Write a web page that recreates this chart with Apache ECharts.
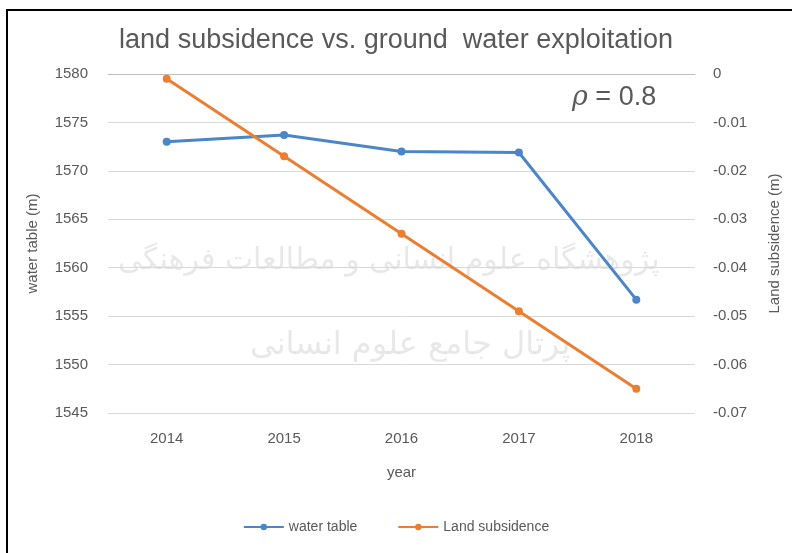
<!DOCTYPE html>
<html>
<head>
<meta charset="utf-8">
<script src="https://cdn.jsdelivr.net/npm/echarts@6/dist/echarts.min.js"></script>
<style>
  html, body { margin: 0; padding: 0; background: #fff; }
  #chart { width: 792px; height: 553px; }
</style>
</head>
<body>
<div id="chart"></div>
<script>
// data
const years = ["2014", "2015", "2016", "2017", "2018"];
const waterTable = [1573.0, 1573.7, 1572.0, 1571.9, 1556.7];
const landSubsidence = [-0.001, -0.017, -0.033, -0.049, -0.065];

const textColor = "#595959";
const font = "Liberation Sans";

let myChart = echarts.init(document.getElementById("chart"));

let option = {
  backgroundColor: "#fff",
  textStyle: { fontFamily: font },
  title: {
    text: "land subsidence vs. ground  water exploitation",
    left: "center",
    top: 22,
    textStyle: { fontSize: 27, fontWeight: "normal", color: textColor, fontFamily: font },
  },
  graphic: [
    // frame around the figure
    {
      type: "rect",
      shape: { x: 7, y: 10, width: 820, height: 600 },
      style: { fill: "none", stroke: "#000", lineWidth: 2 },
      z: 100,
    },
    // faint watermark
    {
      type: "text",
      left: 118,
      top: 246,
      style: {
        text: "پژوهشگاه علوم انسانی و مطالعات فرهنگی",
        fontSize: 30,
        fontFamily: "DejaVu Sans",
        fill: "rgba(150,150,150,0.22)",
      },
      z: -1,
    },
    {
      type: "text",
      left: 250,
      top: 330,
      style: {
        text: "پرتال جامع علوم انسانی",
        fontSize: 32,
        fontFamily: "DejaVu Sans",
        fill: "rgba(150,150,150,0.22)",
      },
      z: -1,
    },
    // correlation note
    {
      type: "text",
      left: 572,
      top: 84,
      style: {
        rich: {
          r: { fontSize: 27, fontStyle: "italic", fontFamily: "DejaVu Serif", fill: textColor },
          t: { fontSize: 27, fontFamily: font, fill: textColor },
        },
        text: "{r|ρ}{t| = 0.8}",
      },
    },
  ],
  legend: {
    bottom: 14,
    left: "center",
    itemWidth: 40,
    itemHeight: 8,
    itemGap: 40,
    textStyle: { fontSize: 14, color: textColor, fontFamily: font },
    data: ["water table", "Land subsidence"],
  },
  grid: {
    left: 108,
    right: 97,
    top: 74,
    bottom: 140,
  },
  xAxis: {
    type: "category",
    data: years,
    boundaryGap: true,
    name: "year",
    nameLocation: "middle",
    nameGap: 52,
    nameTextStyle: { fontSize: 15, color: textColor },
    axisLine: { lineStyle: { color: "#bfbfbf", width: 1 } },
    axisTick: { show: false },
    axisLabel: { fontSize: 15, color: textColor, margin: 18 },
  },
  yAxis: [
    {
      type: "value",
      min: 1545,
      max: 1580,
      interval: 5,
      name: "water table (m)",
      nameLocation: "middle",
      nameGap: 68,
      nameTextStyle: { fontSize: 15, color: textColor },
      axisLine: { show: false },
      axisTick: { show: false },
      axisLabel: { fontSize: 15, color: textColor, margin: 20, formatter: (v) => String(v) },
      splitLine: { lineStyle: { color: "#d9d9d9", width: 1 } },
    },
    {
      type: "value",
      min: -0.07,
      max: 0,
      interval: 0.01,
      name: "Land subsidence (m)",
      nameLocation: "middle",
      nameGap: 72,
      nameTextStyle: { fontSize: 15, color: textColor },
      axisLine: { show: false },
      axisTick: { show: false },
      axisLabel: {
        fontSize: 15,
        color: textColor,
        margin: 18,
        formatter: (v) => {
          const r = Math.round(v * 100) / 100;
          return r === 0 ? "0" : r.toFixed(2);
        },
      },
      splitLine: { show: false },
    },
  ],
  series: [
    {
      name: "water table",
      type: "line",
      yAxisIndex: 0,
      data: waterTable,
      symbol: "circle",
      symbolSize: 8,
      color: "#4a86c8",
      lineStyle: { width: 3 },
    },
    {
      name: "Land subsidence",
      type: "line",
      yAxisIndex: 1,
      data: landSubsidence,
      symbol: "circle",
      symbolSize: 8,
      color: "#ed7d31",
      lineStyle: { width: 3 },
    },
  ],
};

myChart.setOption(option);
</script>
</body>
</html>
